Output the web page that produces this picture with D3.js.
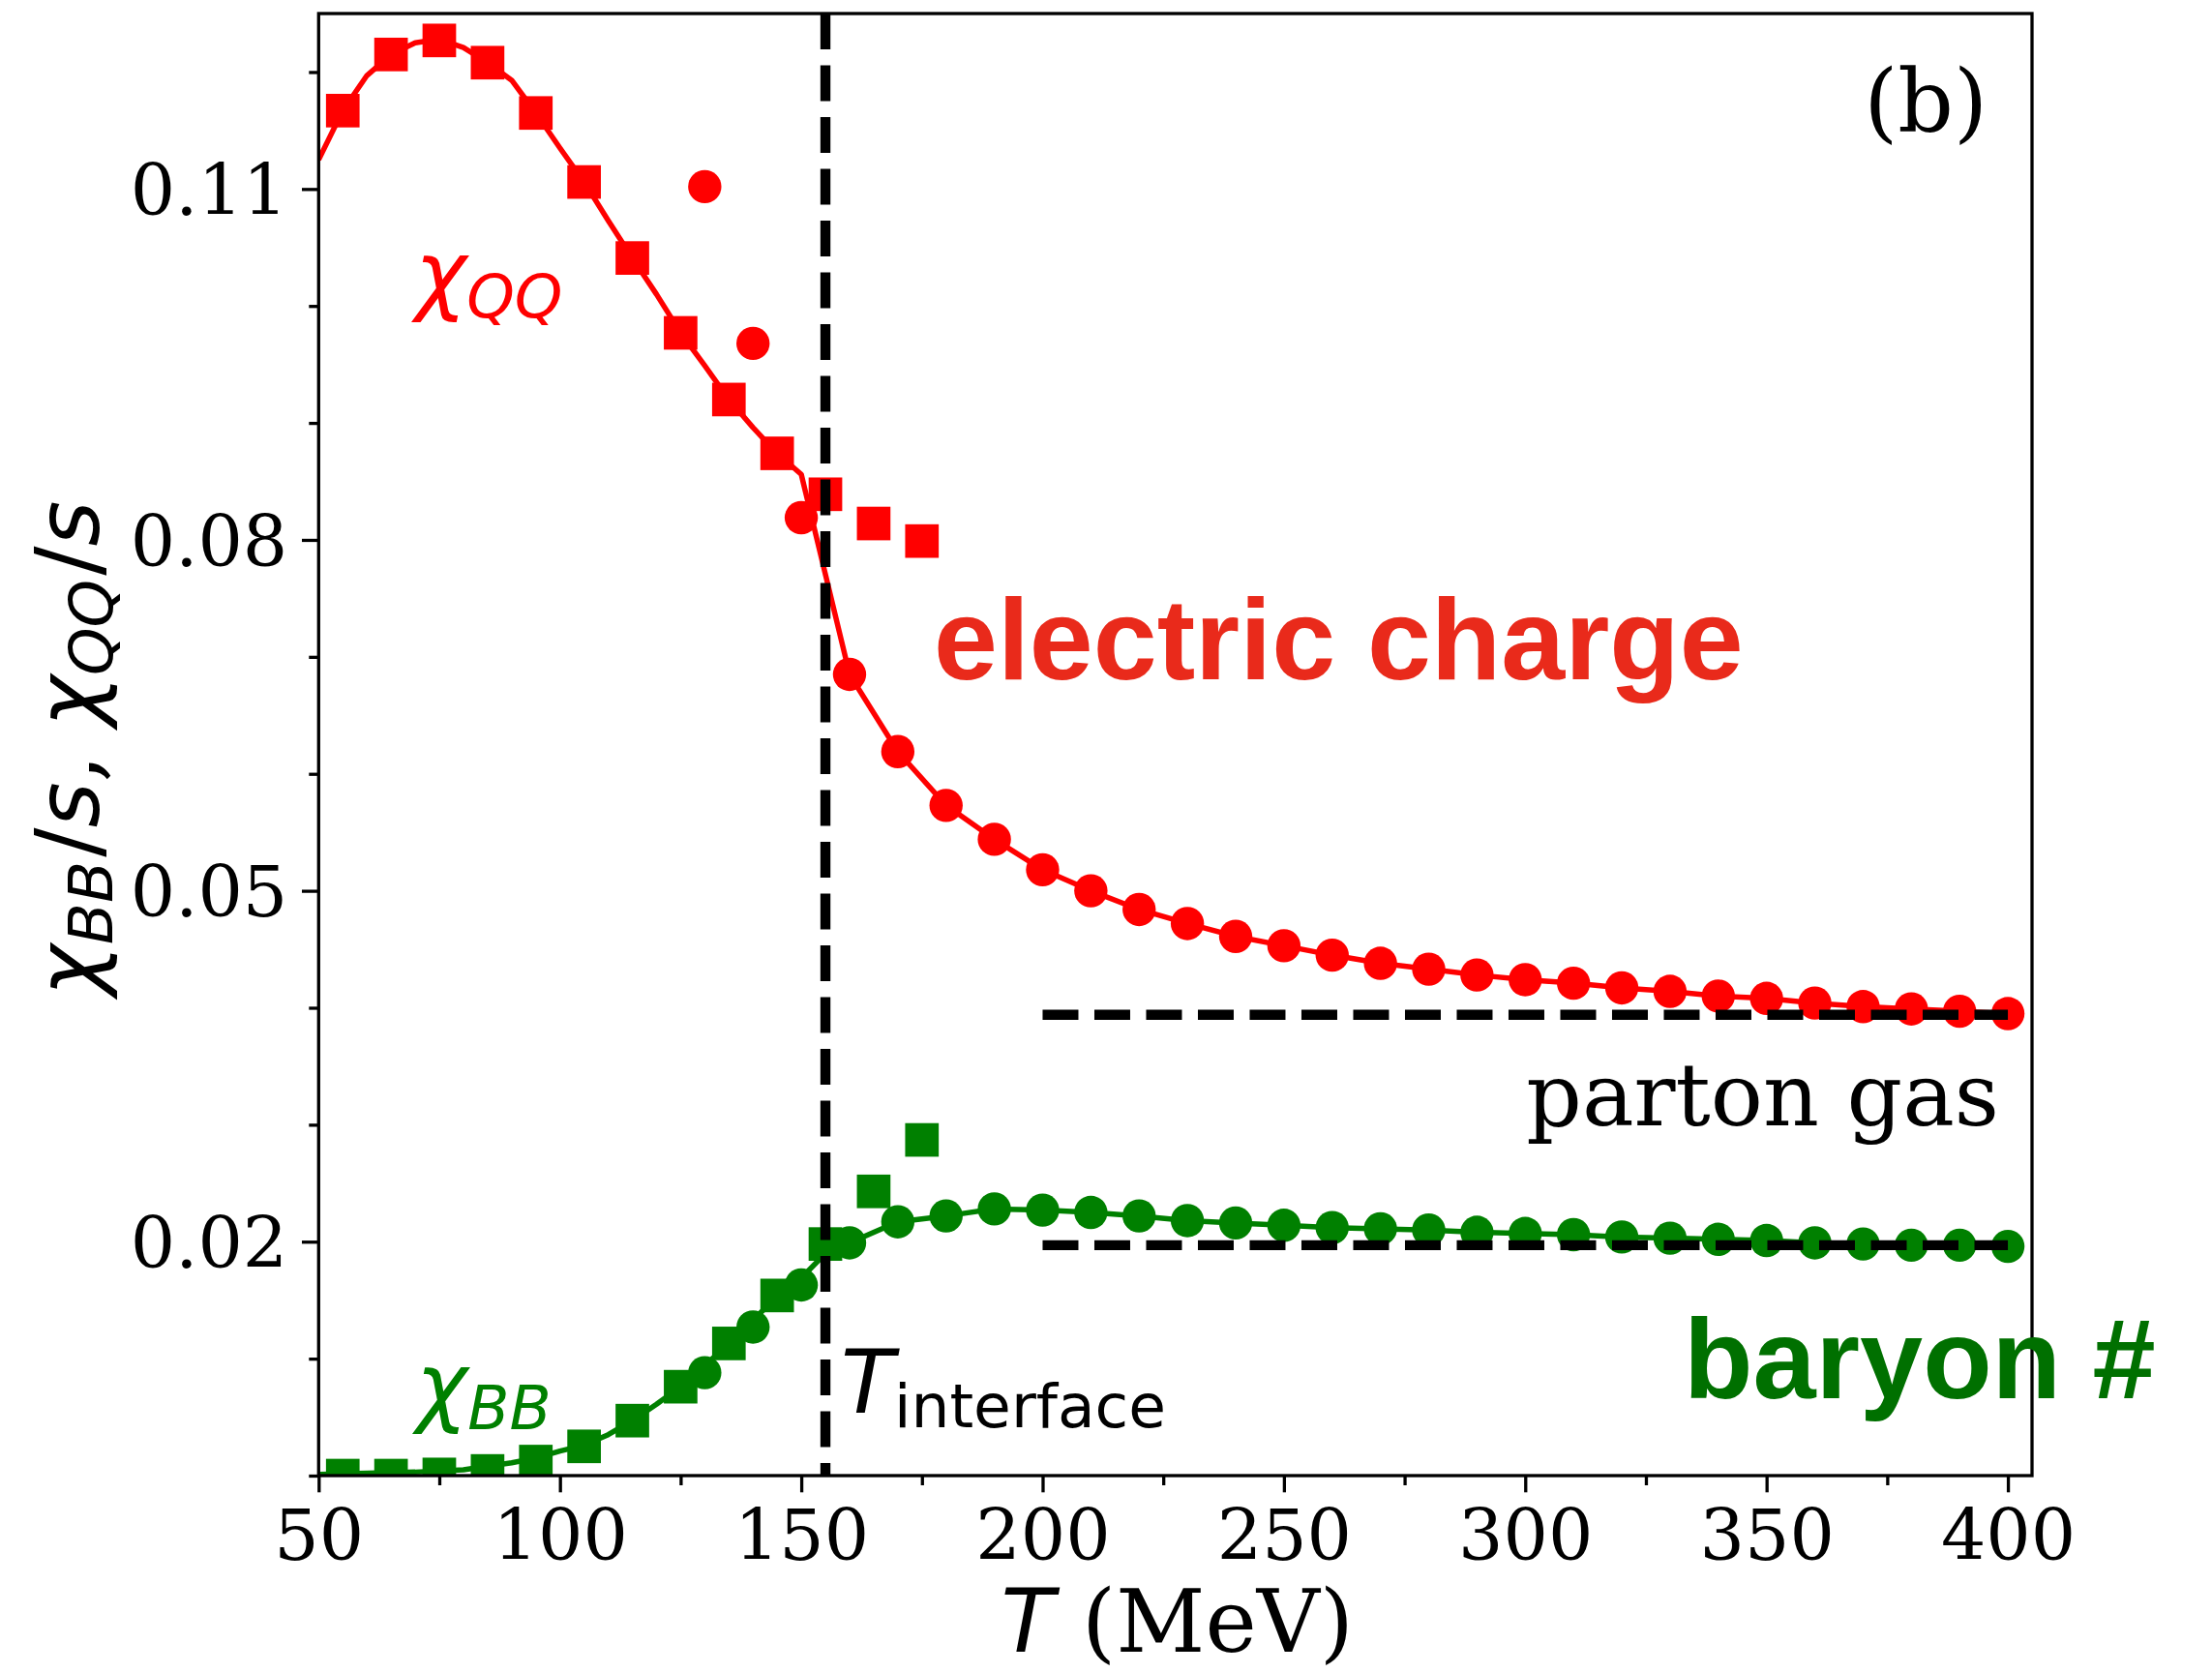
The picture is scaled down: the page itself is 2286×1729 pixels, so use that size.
<!DOCTYPE html>
<html><head><meta charset="utf-8">
<script src="https://cdn.jsdelivr.net/npm/d3@7"></script>
<style>body{margin:0;background:#fff} svg{display:block}</style>
</head><body>
<svg id="c" width="2286" height="1729"></svg>
<script>
// ---- data ----
const T_sq = [55,65,75,85,95,105,115,125,135,145,155,165,175];
const Q_sq = [0.1167,0.1215,0.1227,0.1208,0.1165,0.1106,0.1041,0.0977,0.0920,0.0874,0.0839,0.0814,0.0799];
const B_sq = [0.0000,0.0000,0.0001,0.0004,0.0012,0.0025,0.0047,0.0076,0.0113,0.0154,0.0198,0.0243,0.0287];

const T_ci = [130,140,150,160,170,180,190,200,210,220,230,240,250,260,270,280,290,300,310,320,330,340,350,360,370,380,390,400];
const Q_ci = [0.1102,0.0968,0.0819,0.0685,0.0619,0.0573,0.0544,0.0518,0.0500,0.0484,0.0472,0.0461,0.0453,0.0445,0.0438,0.0433,0.0428,0.0424,0.0421,0.0417,0.0414,0.0410,0.0408,0.0404,0.0401,0.0399,0.0397,0.0395];
const B_ci = [0.0088,0.0127,0.0163,0.0199,0.0217,0.0222,0.0228,0.0227,0.0225,0.0222,0.0218,0.0216,0.0214,0.0212,0.0211,0.0210,0.0208,0.0207,0.0206,0.0204,0.0203,0.0202,0.0201,0.0199,0.0198,0.0197,0.0197,0.0196];

// curve below the crossover (continues through the circles above 160 MeV)
const T_lineQ = [50,55,60,65,70,75,80,85,90,95,100,105,110,115,120,125,130,135,140,145,150];
const Q_line  = [0.1125,0.1167,0.1197,0.1215,0.1225,0.1228,0.1221,0.1208,0.1193,0.1165,0.1135,0.1106,0.1073,0.1041,0.1010,0.0977,0.0949,0.0920,0.0896,0.0874,0.0856];
const T_lineB = [50,60,70,80,85,90,95,100,105,110,115,120,125,130,135,140,145,150,155];
const B_line  = [0.0001,0.0002,0.0003,0.0005,0.0008,0.0011,0.0015,0.0021,0.0026,0.0035,0.0047,0.0061,0.0076,0.0094,0.0113,0.0133,0.0153,0.0169,0.0190];

const partonQ = 0.0394, partonB = 0.0197;
const partonT = [200, 400];
const T_interface = 155;

const xMajor = [50,100,150,200,250,300,350,400];
const xMinor = [75,125,175,225,275,325,375];
const yMajor = [0.02,0.05,0.08,0.11];
const yMinor = [0.00,0.01,0.03,0.04,0.06,0.07,0.09,0.10,0.12];

// ---- layout ----
const L = 329.3, R = 2100, TOP = 14, BOT = 1525;
const RED = "#ff0000", GREEN = "#008000";
const FS = 90;
const svg = d3.select("#c");
const x = d3.scaleLinear().domain([50,405]).range([L,R]);
const y = d3.scaleLinear().domain([0,0.125]).range([BOT,TOP]);

svg.append("defs").append("clipPath").attr("id","clip")
  .append("rect").attr("x",L).attr("y",TOP).attr("width",R-L).attr("height",BOT-TOP);

const plot = svg.append("g").attr("clip-path","url(#clip)");

const line = d3.line().x(d=>x(d[0])).y(d=>y(d[1])).curve(d3.curveLinear);
const qLine = T_lineQ.map((t,i)=>[t,Q_line[i]]).concat(T_ci.map((t,i)=>[t,Q_ci[i]]).filter(d=>d[0]>=160));
const bLine = T_lineB.map((t,i)=>[t,B_line[i]]).concat(T_ci.map((t,i)=>[t,B_ci[i]]).filter(d=>d[0]>=160));

plot.append("path").attr("d",line(qLine)).attr("fill","none").attr("stroke",RED).attr("stroke-width",5.5).attr("stroke-linejoin","round");
plot.append("path").attr("d",line(bLine)).attr("fill","none").attr("stroke",GREEN).attr("stroke-width",5.5).attr("stroke-linejoin","round");

const S = 34.7, RAD = 17.2;
function squares(vals,color){
  plot.append("g").selectAll("rect").data(T_sq.map((t,i)=>[t,vals[i]])).join("rect")
    .attr("x",d=>x(d[0])-S/2).attr("y",d=>y(d[1])-S/2).attr("width",S).attr("height",S).attr("fill",color);
}
function circles(vals,color){
  plot.append("g").selectAll("circle").data(T_ci.map((t,i)=>[t,vals[i]])).join("circle")
    .attr("cx",d=>x(d[0])).attr("cy",d=>y(d[1])).attr("r",RAD).attr("fill",color);
}
squares(Q_sq,RED); circles(Q_ci,RED);
squares(B_sq,GREEN); circles(B_ci,GREEN);

const DASH = "37,16.5";
[partonQ,partonB].forEach(v=>{
  plot.append("line").attr("x1",x(partonT[0])).attr("x2",x(partonT[1]))
    .attr("y1",y(v)).attr("y2",y(v)).attr("stroke","#000").attr("stroke-width",10.4).attr("stroke-dasharray",DASH);
});
plot.append("line").attr("x1",x(T_interface)).attr("x2",x(T_interface))
  .attr("y1",TOP).attr("y2",BOT).attr("stroke","#000").attr("stroke-width",10.4).attr("stroke-dasharray",DASH);

// ---- axes ----
function styleAxis(g){
  g.select(".domain").remove();
  g.selectAll("line").attr("stroke","#000").attr("stroke-width",3.3);
  g.selectAll("text").attr("font-family","'DejaVu Serif'").attr("font-size",73).attr("fill","#000");
}
const gx = svg.append("g").attr("transform",`translate(0,${BOT})`)
  .call(d3.axisBottom(x).tickValues(xMajor).tickSize(17.3).tickFormat(d3.format("d")));
styleAxis(gx); gx.selectAll("text").attr("y",87).attr("dy",null);
const gx2 = svg.append("g").attr("transform",`translate(0,${BOT})`)
  .call(d3.axisBottom(x).tickValues(xMinor).tickSize(10).tickFormat(""));
styleAxis(gx2);
const gy = svg.append("g").attr("transform",`translate(${L},0)`)
  .call(d3.axisLeft(y).tickValues(yMajor).tickSize(17.3).tickFormat(d3.format(".2f")));
styleAxis(gy); gy.selectAll("text").attr("x",-32).attr("dy","0.36em");
const gy2 = svg.append("g").attr("transform",`translate(${L},0)`)
  .call(d3.axisLeft(y).tickValues(yMinor).tickSize(10).tickFormat(""));
styleAxis(gy2);

svg.append("rect").attr("x",L).attr("y",TOP).attr("width",R-L).attr("height",BOT-TOP)
  .attr("fill","none").attr("stroke","#000").attr("stroke-width",3.3);

// ---- labels ----
const xl = svg.append("text").attr("x",(L+R)/2 + 2).attr("y",1707).attr("text-anchor","middle")
  .attr("font-size",FS).attr("fill","#000");
xl.append("tspan").attr("font-family","'DejaVu Sans'").attr("font-style","italic").text("T");
xl.append("tspan").attr("font-family","'DejaVu Serif'").text(" (MeV)");

const ylg = svg.append("g").attr("transform",`translate(102,${(TOP+BOT)/2 + 4}) rotate(-90)`);
const yl = ylg.append("text").attr("x",0).attr("y",0)
  .attr("text-anchor","middle").attr("font-size",FS).attr("font-family","'DejaVu Sans'").attr("fill","#000");
function mathChi(t, sub){
  t.append("tspan").attr("font-style","italic").text("χ");
  t.append("tspan").attr("font-style","italic").attr("font-size","70%").attr("dy",14).text(sub);
  t.append("tspan").attr("dy",-14).attr("dx",4).text("/");
  t.append("tspan").attr("font-style","italic").text("s");
}
mathChi(yl,"BB");
yl.append("tspan").attr("font-family","'DejaVu Serif'").text(", ");
mathChi(yl,"QQ");

function endText(xEnd, yb, str){
  const t = svg.append("text").attr("x",xEnd).attr("y",yb)
    .attr("font-family","'DejaVu Serif'").attr("font-size",FS).attr("fill","#000").text(str);
  const w = t.node().getComputedTextLength();
  t.attr("x", xEnd - w);
  return t;
}
endText(2054,136,"(b)");
endText(2066,1163,"parton gas");

svg.append("text").attr("x",965).attr("y",702)
  .attr("font-family","'Liberation Sans'").attr("font-weight","bold").attr("font-size",118.5)
  .attr("fill","#e92a1b").text("electric charge");

svg.append("text").attr("x",1740).attr("y",1445)
  .attr("font-family","'Liberation Sans'").attr("font-weight","bold").attr("font-size",117)
  .attr("fill","#007000").text("baryon #");

function chiLabel(xp, yp, sub, color){
  const t = svg.append("text").attr("x",xp).attr("y",yp).attr("font-family","'DejaVu Sans'")
    .attr("font-size",FS).attr("fill",color).attr("font-style","italic");
  t.append("tspan").text("χ");
  t.append("tspan").attr("font-size","70%").attr("dy",14).text(sub);
}
chiLabel(429,314,"QQ",RED);
chiLabel(430,1463,"BB",GREEN);

const ti = svg.append("text").attr("x",869).attr("y",1460).attr("font-family","'DejaVu Sans'")
  .attr("font-size",FS).attr("fill","#000");
ti.append("tspan").attr("font-style","italic").text("T");
ti.append("tspan").attr("font-size","70%").attr("dy",15).text("interface");
</script>
</body></html>
